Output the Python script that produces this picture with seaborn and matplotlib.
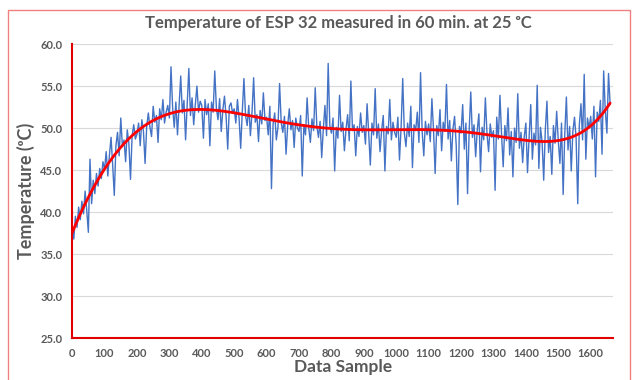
import numpy as np
import pandas as pd
import matplotlib
matplotlib.use("Agg")
import matplotlib.pyplot as plt
from matplotlib.patches import Rectangle
import seaborn as sns

# temperature, one value every 5 samples
step = 5
temps = [
    38.0, 36.8, 39.5, 38.2, 40.6, 39.1, 41.3, 39.8, 42.5, 40.2, 37.6, 46.3, 41.0, 43.8, 42.2, 44.6, 43.1, 45.2, 44.0, 46.0,
    45.1, 47.2, 44.3, 46.8, 48.9, 45.6, 42.0, 47.9, 49.5, 46.7, 51.2, 47.8, 48.6, 46.0, 49.8, 48.2, 43.9, 49.1, 50.4, 48.7,
    49.3, 50.6, 47.9, 51.0, 49.6, 45.8, 50.2, 51.8, 50.1, 49.0, 52.6, 50.7, 51.5, 48.3, 52.3, 51.0, 53.4, 50.6, 51.9, 52.7,
    51.2, 57.3, 52.4, 50.1, 53.1, 49.2, 52.6, 56.2, 51.8, 53.3, 48.6, 52.9, 57.1, 51.5, 53.6, 50.4, 52.8, 55.0, 51.9, 53.2,
    52.7, 48.8, 53.4, 51.6, 52.9, 47.9, 53.1, 51.9, 56.8, 52.4, 51.0, 53.5, 49.6, 52.2, 53.8, 51.4, 47.5, 52.6, 53.0, 51.8,
    52.3, 50.6, 53.4, 51.2, 47.6, 52.0, 55.9, 51.5, 50.3, 52.7, 49.1, 51.9, 56.0, 50.7, 51.6, 48.4, 52.1, 50.5, 54.2, 50.9,
    51.3, 49.2, 52.6, 42.8, 50.5, 51.8, 48.6, 50.1, 55.3, 50.7, 49.5, 51.4, 46.9, 50.3, 52.3, 49.8, 50.9, 47.7, 51.2, 50.0,
    49.6, 51.5, 44.3, 50.4, 49.2, 53.6, 50.0, 48.3, 51.1, 49.7, 54.8, 50.2, 48.9, 50.8, 46.5, 49.9, 52.7, 49.1, 57.7, 50.3,
    49.4, 51.2, 44.9, 50.1, 48.8, 53.9, 49.6, 50.7, 47.3, 49.9, 51.6, 48.5, 55.6, 49.7, 50.4, 46.7, 50.2, 49.0, 51.8, 49.5,
    50.3, 48.1, 52.9, 49.4, 45.6, 50.6, 49.2, 54.7, 48.8, 50.5, 47.2, 49.8, 51.5, 44.9, 50.2, 49.3, 53.4, 48.6, 50.7, 49.5,
    48.9, 51.3, 46.2, 50.1, 55.9, 49.4, 47.8, 50.6, 49.0, 52.6, 45.3, 50.4, 49.7, 51.9, 48.3, 56.6, 49.6, 46.7, 50.8, 49.2,
    50.5, 48.4, 53.5, 49.8, 44.6, 50.3, 49.1, 52.2, 47.3, 50.7, 49.6, 55.2, 48.7, 50.9, 46.1, 49.9, 51.4, 48.0, 40.9, 50.2,
    49.4, 52.8, 47.5, 50.6, 42.2, 49.7, 54.3, 48.9, 50.4, 46.6, 49.8, 51.7, 44.8, 50.1, 48.6, 53.6, 49.3, 47.2, 50.5, 48.9,
    49.7, 42.6, 51.3, 48.7, 53.9, 49.2, 45.4, 50.3, 48.5, 52.4, 46.8, 49.6, 44.2, 50.0, 48.3, 54.1, 47.6, 49.5, 45.9, 49.0,
    50.6, 44.7, 48.9, 52.8, 46.3, 49.4, 48.0, 55.1, 45.2, 50.1, 48.4, 43.8, 49.8, 53.2, 47.1, 49.0, 44.5, 50.3, 48.2, 52.0,
    48.5, 45.8, 50.6, 42.1, 49.3, 53.7, 47.4, 50.2, 44.9, 49.6, 51.3, 48.8, 41.0, 50.4, 52.9, 48.6, 56.4, 46.3, 51.2, 50.0,
    51.4, 48.7, 52.6, 44.2, 51.9, 50.8, 53.3, 46.9, 56.8, 52.1, 49.4, 56.5, 52.8,
]
samples = np.arange(len(temps)) * step

x_ticks = list(range(0, 1700, 100))
y_ticks = [25.0, 30.0, 35.0, 40.0, 45.0, 50.0, 55.0, 60.0]

df = pd.DataFrame({"sample": samples, "temp": temps})

# 6th order polynomial trendline, like the spreadsheet one
poly = np.polynomial.Polynomial.fit(df["sample"], df["temp"], 6)
trend = pd.DataFrame({"sample": np.linspace(0, samples[-1], 400)})
trend["temp"] = poly(trend["sample"])

sns.set_theme(style="white")
plt.rcParams["font.family"] = ["Lato", "DejaVu Sans"]

grey = "#595959"
red = "#E00000"

fig = plt.figure(figsize=(6.33, 3.8), dpi=100)
ax = fig.add_axes([0.114, 0.11, 0.855, 0.774])

sns.lineplot(data=df, x="sample", y="temp", ax=ax, color="#4472C4", linewidth=1.0)
sns.lineplot(data=trend, x="sample", y="temp", ax=ax, color="#FF0000", linewidth=2)

ax.set_xlim(0, 1670)
ax.set_ylim(25, 60)
ax.set_xticks(x_ticks)
ax.set_yticks(y_ticks)
ax.set_yticklabels([f"{v:.1f}" for v in y_ticks])
ax.yaxis.grid(True, color="#D9D9D9", linewidth=0.8)
ax.set_axisbelow(True)

for side in ["top", "right"]:
    ax.spines[side].set_visible(False)
for side in ["left", "bottom"]:
    ax.spines[side].set_color(red)
    ax.spines[side].set_linewidth(1.5)

ax.tick_params(axis="both", which="major", direction="out", length=4, width=1.3,
               color=red, labelcolor=grey, labelsize=8, pad=3)
for lab in ax.get_xticklabels() + ax.get_yticklabels():
    lab.set_fontweight("bold")

ax.set_xlabel("Data Sample", fontsize=12.5, fontweight="bold", color=grey, labelpad=0)
ax.set_ylabel("Temperature (ᵒC)", fontsize=13, fontweight="bold", color=grey, labelpad=4)
fig.text(0.535, 0.94, "Temperature of ESP 32 measured in 60 min. at 25 ᵒC",
         ha="center", va="center", fontsize=12, fontweight="bold", color=grey)

fig.patches.append(Rectangle((0.013, -0.01), 0.983, 0.984, transform=fig.transFigure,
                             fill=False, edgecolor="#F08080", linewidth=1))

fig.savefig("out.png", dpi=100)
